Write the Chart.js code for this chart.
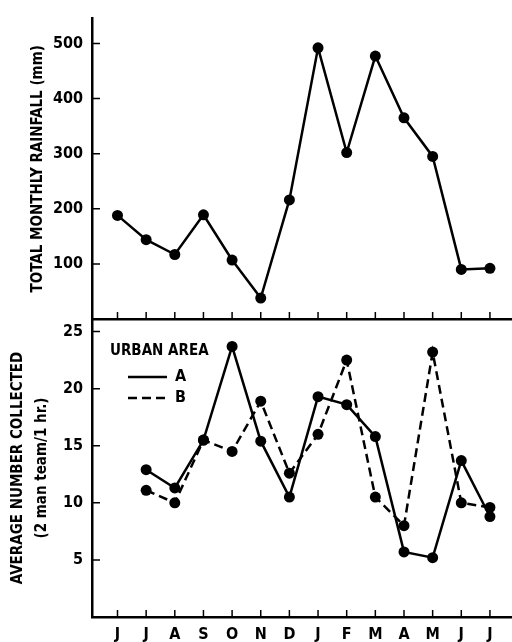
<!DOCTYPE html>
<html>
<head>
<meta charset="utf-8">
<title>Rainfall and collections</title>
<script src="https://cdn.jsdelivr.net/npm/chart.js@4/dist/chart.umd.min.js"></script>
<style>
	html, body { margin: 0; padding: 0; background: #fff; }
	#wrap { position: relative; width: 512px; height: 642px; }
	#wrap canvas { position: absolute; left: 0; top: 0; }
</style>
</head>
<body>
<div id="wrap">
	<canvas id="top" width="512" height="642"></canvas>
	<canvas id="bottom" width="512" height="642"></canvas>
</div>
<script>
var months = ['J', 'J', 'A', 'S', 'O', 'N', 'D', 'J', 'F', 'M', 'A', 'M', 'J', 'J'];
var rainfall = [188, 144, 117, 189, 107, 38, 216, 492, 302, 477, 365, 295, 90, 92];
var areaA = [null, 12.9, 11.3, 15.5, 23.7, 15.4, 10.5, 19.3, 18.6, 15.8, 5.7, 5.2, 13.7, 8.8];
var areaB = [null, 11.1, 10.0, 15.5, 14.5, 18.9, 12.6, 16.0, 22.5, 10.5, 8.0, 23.2, 10.0, 9.6];
var rainTicks = [100, 200, 300, 400, 500];
var countTicks = [5, 10, 15, 20, 25];

(function (Chart) {
	'use strict';

	var FONT = '"Liberation Sans Narrow", "DejaVu Sans Condensed", "Roboto", sans-serif';
	var INK = '#000';

	Chart.defaults.font.family = FONT;
	Chart.defaults.font.weight = 'bold';
	Chart.defaults.color = INK;
	Chart.defaults.animation = false;

	function points(values) {
		return values.map(function (v, i) {
			return { x: i, y: v };
		});
	}

	// tick marks that point into the plot, placed by the scales themselves
	var innerTicks = {
		id: 'innerTicks',
		afterDraw: function (chart) {
			var ctx = chart.ctx,
				xs = chart.scales.x,
				ys = chart.scales.y,
				area = chart.chartArea;
			ctx.save();
			ctx.strokeStyle = INK;
			ctx.lineWidth = 1.5;
			ctx.beginPath();
			xs.ticks.forEach(function (t) {
				var px = xs.getPixelForValue(t.value);
				ctx.moveTo(px, area.bottom);
				ctx.lineTo(px, area.bottom - 7);
			});
			ys.ticks.forEach(function (t) {
				var py = ys.getPixelForValue(t.value);
				ctx.moveTo(area.left, py);
				ctx.lineTo(area.left + 8, py);
			});
			ctx.stroke();
			ctx.restore();
		}
	};

	var legendBox = {
		id: 'legendBox',
		afterDraw: function (chart) {
			var ctx = chart.ctx;
			ctx.save();
			ctx.fillStyle = INK;
			ctx.strokeStyle = INK;
			ctx.font = 'bold 15px ' + FONT;
			ctx.textBaseline = 'middle';
			ctx.fillText('URBAN AREA', 110, 351);
			ctx.lineWidth = 2.5;
			ctx.beginPath();
			ctx.moveTo(128, 377);
			ctx.lineTo(167, 377);
			ctx.stroke();
			ctx.setLineDash([9, 5]);
			ctx.beginPath();
			ctx.moveTo(128, 398);
			ctx.lineTo(167, 398);
			ctx.stroke();
			ctx.font = 'bold 16px ' + FONT;
			ctx.fillText('A', 175, 377);
			ctx.fillText('B', 175, 398);
			ctx.restore();
		}
	};

	function xAxis(showLabels, height) {
		return {
			type: 'linear',
			min: -0.89,
			max: 13.77,
			afterBuildTicks: function (s) {
				s.ticks = months.map(function (m, i) { return { value: i }; });
			},
			afterFit: function (s) { s.height = height; },
			grid: { display: false, drawTicks: false },
			border: { display: true, color: INK, width: 2.5 },
			ticks: {
				display: showLabels,
				padding: 8,
				font: { size: 16, weight: 'bold' },
				callback: function (v) { return months[v]; }
			}
		};
	}

	function yAxis(max, tickValues, title, titlePad) {
		return {
			min: 0,
			max: max,
			afterBuildTicks: function (s) {
				s.ticks = tickValues.map(function (v) { return { value: v }; });
			},
			afterFit: function (s) { s.width = 92; },
			grid: { display: false, drawTicks: false },
			border: { display: true, color: INK, width: 2.5 },
			ticks: { padding: 9, font: { size: 16, weight: 'bold' } },
			title: {
				display: true,
				text: title,
				color: INK,
				padding: { top: titlePad, bottom: 0 },
				font: { size: 15, weight: 'bold', lineHeight: 1.6 }
			}
		};
	}

	function lineSet(values, dash) {
		return {
			data: points(values),
			borderColor: INK,
			backgroundColor: INK,
			borderWidth: 2.5,
			borderDash: dash,
			pointRadius: 5.5,
			pointBackgroundColor: INK,
			pointBorderWidth: 0,
			spanGaps: false
		};
	}

	new Chart(document.getElementById('top'), {
		type: 'line',
		data: { datasets: [lineSet(rainfall, [])] },
		options: {
			responsive: false,
			layout: { autoPadding: false, padding: { top: 10, right: 0, bottom: 323, left: 0 } },
			plugins: { legend: { display: false }, tooltip: { enabled: false } },
			scales: {
				x: xAxis(false, 0),
				y: yAxis(545, rainTicks, 'TOTAL MONTHLY RAINFALL (mm)', 26)
			}
		},
		plugins: [innerTicks]
	});

	new Chart(document.getElementById('bottom'), {
		type: 'line',
		data: { datasets: [lineSet(areaA, []), lineSet(areaB, [9, 5])] },
		options: {
			responsive: false,
			layout: { autoPadding: false, padding: { top: 319, right: 0, bottom: 0, left: 0 } },
			plugins: { legend: { display: false }, tooltip: { enabled: false } },
			scales: {
				x: xAxis(true, 25),
				y: yAxis(26.1, countTicks, ['AVERAGE NUMBER COLLECTED', '(2 man team/1 hr.)'], 6)
			}
		},
		plugins: [innerTicks, legendBox]
	});

}).call(this, this.Chart);
</script>
</body>
</html>
